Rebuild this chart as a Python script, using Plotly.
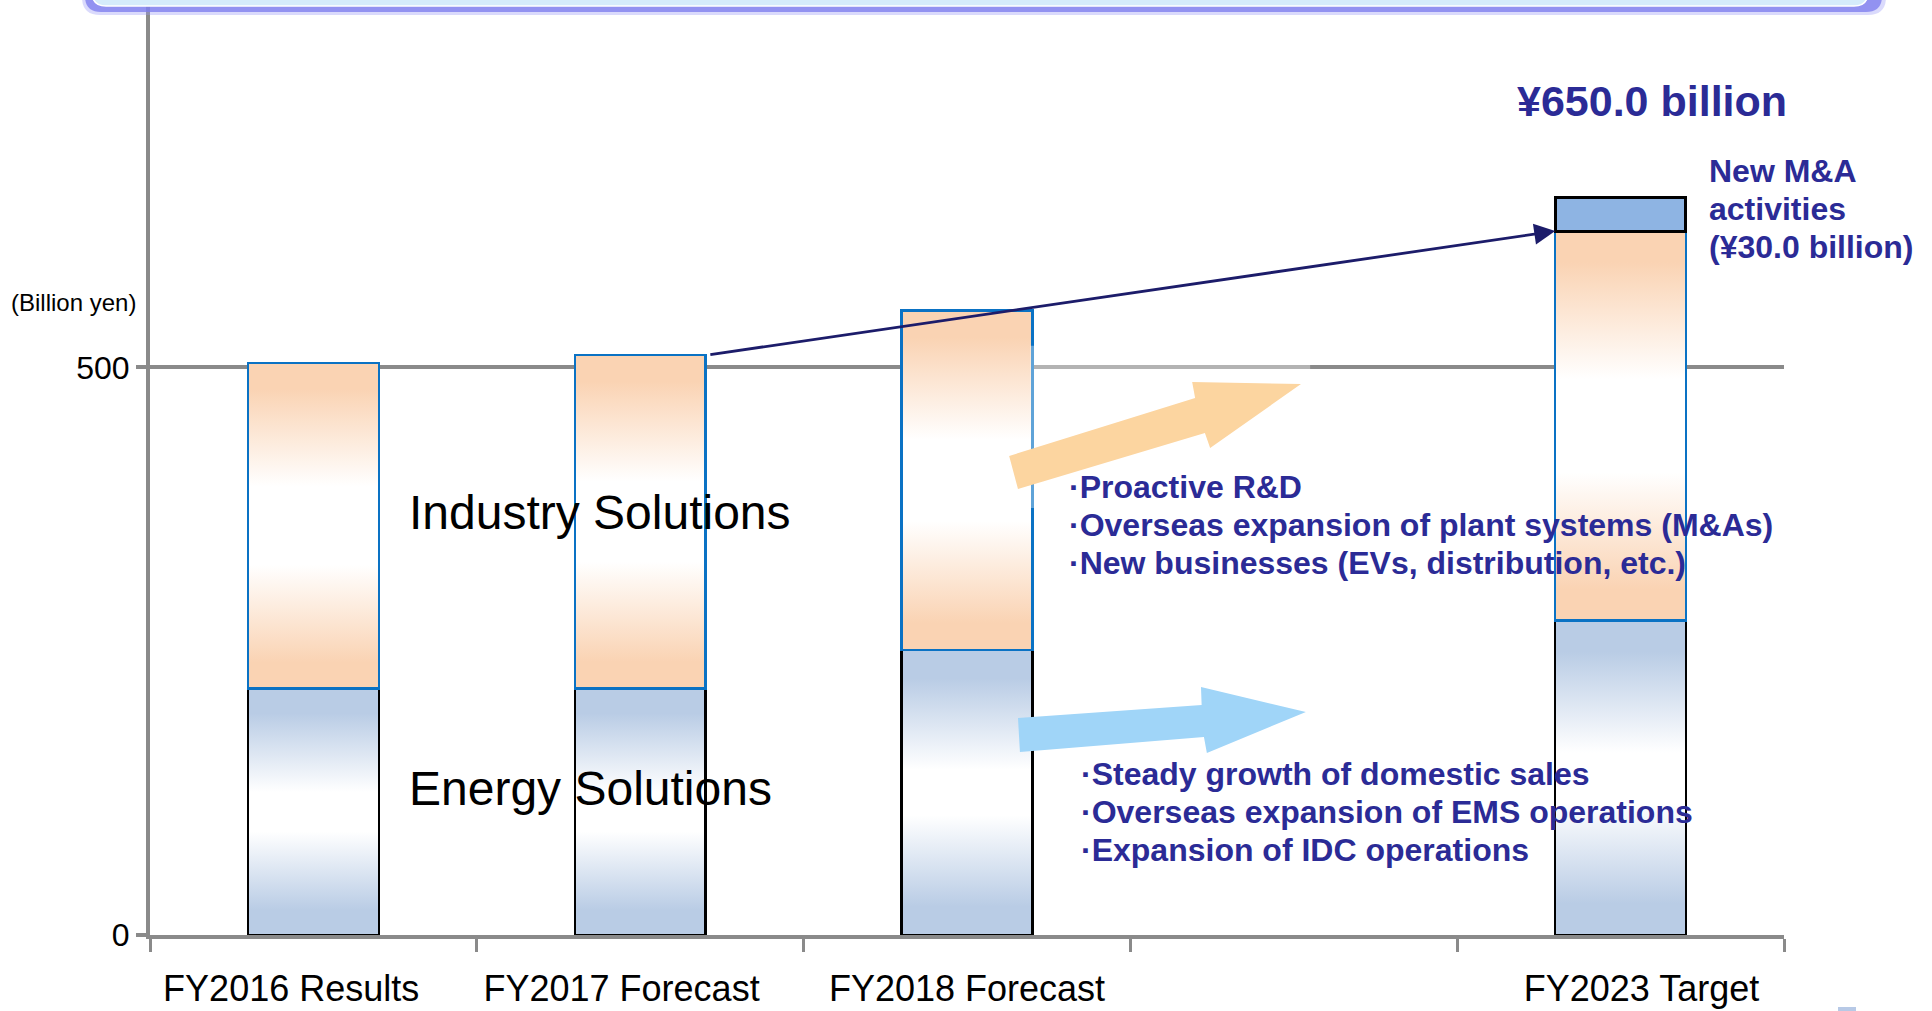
import plotly.graph_objects as go

# ---- data (billion yen) ----
categories = ["FY2016 Results", "FY2017 Forecast", "FY2018 Forecast", "", "FY2023 Target"]
energy_solutions = [217, 217, 251, None, 277]
industry_solutions = [287, 294, 299, None, 343]
new_ma_activities = [None, None, None, None, 30]
y_tick_values = [0, 500]

industry_bullets = [
    "Proactive R&D",
    "Overseas expansion of plant systems (M&As)",
    "New businesses (EVs, distribution, etc.)",
]
energy_bullets = [
    "Steady growth of domestic sales",
    "Overseas expansion of EMS operations",
    "Expansion of IDC operations",
]
ma_note_lines = ["New M&A", "activities", "(¥{:.1f} billion)"]

# ---- styling ----
FONT = "Liberation Sans, Arial, sans-serif"
NAVY_TEXT = "#2B2B96"
ARROW_NAVY = "#1C1C6A"
AXIS_GREY = "#8A8A8A"
PEACH = "#FAD3B3"
ICE = "#B9CCE5"
MA_BLUE = "#8EB4E3"
INDUSTRY_EDGE = "#0A72C4"
BAR_W = 0.4
LABEL_NUDGE = [-0.068, -0.057, 0.0, 0.0, 0.064]   # horizontal offsets of the category captions
LINE_STEP = 33.6                                   # bullet line spacing in axis units

n = len(categories)
idx = list(range(n))
X_RANGE = [-0.5, n - 0.5]
Y_RANGE = [0, 820]

energy_scale = [[0, ICE], [0.1, ICE], [0.42, "#FFFFFF"], [0.58, "#FFFFFF"], [0.9, ICE], [1, ICE]]
industry_scale = [[0, PEACH], [0.08, PEACH], [0.38, "#FFFFFF"], [0.62, "#FFFFFF"], [0.92, PEACH], [1, PEACH]]

fig = go.Figure()

# gradient bodies of the stacked segments (drawn under the outlined bars)
for i, (e, ind) in enumerate(zip(energy_solutions, industry_solutions)):
    if e is None:
        continue
    x0, x1 = i - BAR_W / 2, i + BAR_W / 2
    for base, h, scale in ((0, e, energy_scale), (e, ind, industry_scale)):
        fig.add_trace(go.Scatter(
            x=[x0, x1, x1, x0, x0],
            y=[base, base, base + h, base + h, base],
            mode="lines", fill="toself",
            line=dict(width=0, color="rgba(0,0,0,0)"),
            fillgradient=dict(type="vertical", colorscale=scale),
            hoverinfo="skip", showlegend=False,
            xaxis="x", yaxis="y",
        ))

# outlined stacked bars
fig.add_trace(go.Bar(
    x=idx, y=energy_solutions, width=BAR_W, name="Energy Solutions",
    marker=dict(color="rgba(0,0,0,0)", line=dict(color="black", width=2.5)),
    xaxis="x2", yaxis="y",
))
fig.add_trace(go.Bar(
    x=idx, y=industry_solutions, width=BAR_W, name="Industry Solutions",
    marker=dict(color="rgba(0,0,0,0)", line=dict(color=INDUSTRY_EDGE, width=2.5)),
    xaxis="x2", yaxis="y",
))
fig.add_trace(go.Bar(
    x=idx, y=new_ma_activities, width=BAR_W, name="New M&A activities",
    marker=dict(color=MA_BLUE, line=dict(color="black", width=3)),
    xaxis="x2", yaxis="y",
))

# ---- page geometry helpers (pixel -> paper) ----
PLOT_L, PLOT_R, PLOT_T, PLOT_B = 150, 1784, 4, 935


def px_x(p):
    return (p - PLOT_L) / (PLOT_R - PLOT_L)


def px_y(p):
    return (PLOT_B - p) / (PLOT_B - PLOT_T)


def rounded_bottom(x0, x1, y_top, y_bot, r):
    return (
        f"M {px_x(x0)},{px_y(y_top)} L {px_x(x0)},{px_y(y_bot - r)} "
        f"Q {px_x(x0)},{px_y(y_bot)} {px_x(x0 + r)},{px_y(y_bot)} "
        f"L {px_x(x1 - r)},{px_y(y_bot)} "
        f"Q {px_x(x1)},{px_y(y_bot)} {px_x(x1)},{px_y(y_bot - r)} "
        f"L {px_x(x1)},{px_y(y_top)} Z"
    )


def polygon(points):
    return "M " + " L ".join(f"{x},{y}" for x, y in points) + " Z"


shapes = [
    # title panel along the top edge with its soft shadow
    dict(type="path", xref="paper", yref="paper", path=rounded_bottom(82, 1886, -60, 15, 18),
         fillcolor="rgba(150,150,245,0.35)", line=dict(width=0), layer="above"),
    dict(type="path", xref="paper", yref="paper", path=rounded_bottom(85, 1882, -60, 12, 16),
         fillcolor="rgba(128,128,238,0.8)", line=dict(width=0), layer="above"),
    dict(type="path", xref="paper", yref="paper", path=rounded_bottom(92, 1868, -60, 6, 14),
         fillcolor="#D5ECFB", line=dict(color="white", width=1.5), layer="above"),
    # faint backdrop behind the industry growth arrow
    dict(type="rect", xref="x", yref="y", x0=2.193, x1=3.05, y0=376, y1=519,
         fillcolor="rgba(255,255,255,0.35)", line=dict(width=0), layer="above"),
    # growth arrows
    dict(type="path", xref="x", yref="y",
         path=polygon([(2.156, 392.8), (2.129, 421.9), (2.698, 473.0), (2.689, 487.0),
                       (3.022, 485.3), (2.744, 428.9), (2.728, 442.1)]),
         fillcolor="#FCD5A0", line=dict(width=0), layer="above"),
    dict(type="path", xref="x", yref="y",
         path=polygon([(2.156, 191.1), (2.718, 202.6), (2.716, 218.4), (3.037, 196.4),
                       (2.734, 160.3), (2.725, 174.4), (2.162, 161.2)]),
         fillcolor="#A0D5F8", line=dict(width=0), layer="above"),
    # small corner marker
    dict(type="rect", xref="paper", yref="paper", x0=px_x(1838), x1=px_x(1856),
         y0=px_y(1012), y1=px_y(1007), fillcolor="#B7C9E6", line=dict(width=0), layer="above"),
]

fy2017_total = energy_solutions[1] + industry_solutions[1]
fy2023_base = energy_solutions[4] + industry_solutions[4]
fy2023_total = fy2023_base + new_ma_activities[4]


def text_note(text, x, y, size, color, anchor="left", bold=False):
    return dict(text=f"<b>{text}</b>" if bold else text, xref="x", yref="y", x=x, y=y,
                xanchor=anchor, yanchor="middle", showarrow=False,
                font=dict(size=size, color=color))


annotations = [
    dict(text="(Billion yen)", xref="paper", yref="y", x=px_x(138), y=557,
         xanchor="right", yanchor="middle", showarrow=False, font=dict(size=24, color="black")),
    text_note("Industry Solutions", 0.285, 372, 48, "black"),
    text_note("Energy Solutions", 0.285, 129, 48, "black"),
    text_note(f"¥{fy2023_total:.1f} billion", 4.096, 735, 43, NAVY_TEXT, anchor="center", bold=True),
]
for k, line in enumerate(ma_note_lines):
    annotations.append(text_note(line.format(new_ma_activities[4]), 4.265, 673 - k * LINE_STEP,
                                 32, NAVY_TEXT, bold=True))
for k, line in enumerate(industry_bullets):
    annotations.append(text_note("·" + line, 2.305, 395 - k * LINE_STEP, 32, NAVY_TEXT, bold=True))
for k, line in enumerate(energy_bullets):
    annotations.append(text_note("·" + line, 2.343, 142 - k * LINE_STEP, 32, NAVY_TEXT, bold=True))

# trend arrow from the FY2017 forecast to the FY2023 target
annotations.append(dict(
    text="", xref="x", yref="y", axref="x", ayref="y",
    x=4 - BAR_W / 2, y=fy2023_base, ax=1 + BAR_W / 2 + 0.01, ay=fy2017_total,
    showarrow=True, arrowhead=2, arrowsize=1.5, arrowwidth=2.8, arrowcolor=ARROW_NAVY,
    standoff=0, startstandoff=0,
))

fig.update_layout(
    width=1932, height=1011,
    margin=dict(l=PLOT_L, r=1932 - PLOT_R, t=PLOT_T, b=1011 - PLOT_B, autoexpand=False),
    paper_bgcolor="white", plot_bgcolor="white",
    barmode="stack", showlegend=False,
    font=dict(family=FONT, color="black"),
    xaxis=dict(
        range=X_RANGE, tickmode="array",
        tickvals=[i - 0.5 for i in range(n + 1)], ticktext=[""] * (n + 1),
        ticks="outside", ticklen=13, tickwidth=3, tickcolor=AXIS_GREY,
        showline=True, linecolor=AXIS_GREY, linewidth=4,
        showgrid=False, zeroline=False, fixedrange=True, automargin=False,
    ),
    xaxis2=dict(
        range=X_RANGE, overlaying="x", anchor="y", side="bottom",
        tickmode="array", tickvals=[i + d for i, d in zip(idx, LABEL_NUDGE)], ticktext=categories,
        ticks="", showline=False, showgrid=False, zeroline=False,
        tickfont=dict(size=36, color="black"), ticklabelstandoff=29,
        fixedrange=True, automargin=False,
    ),
    yaxis=dict(
        range=Y_RANGE, tickmode="array", tickvals=y_tick_values,
        ticks="outside", ticklen=10, tickwidth=4, tickcolor=AXIS_GREY,
        showline=True, linecolor=AXIS_GREY, linewidth=4,
        showgrid=True, gridcolor=AXIS_GREY, gridwidth=4, zeroline=False,
        tickfont=dict(size=32, color="black"), fixedrange=True, automargin=False,
    ),
    shapes=shapes,
    annotations=annotations,
)

fig.write_html("out.html")
